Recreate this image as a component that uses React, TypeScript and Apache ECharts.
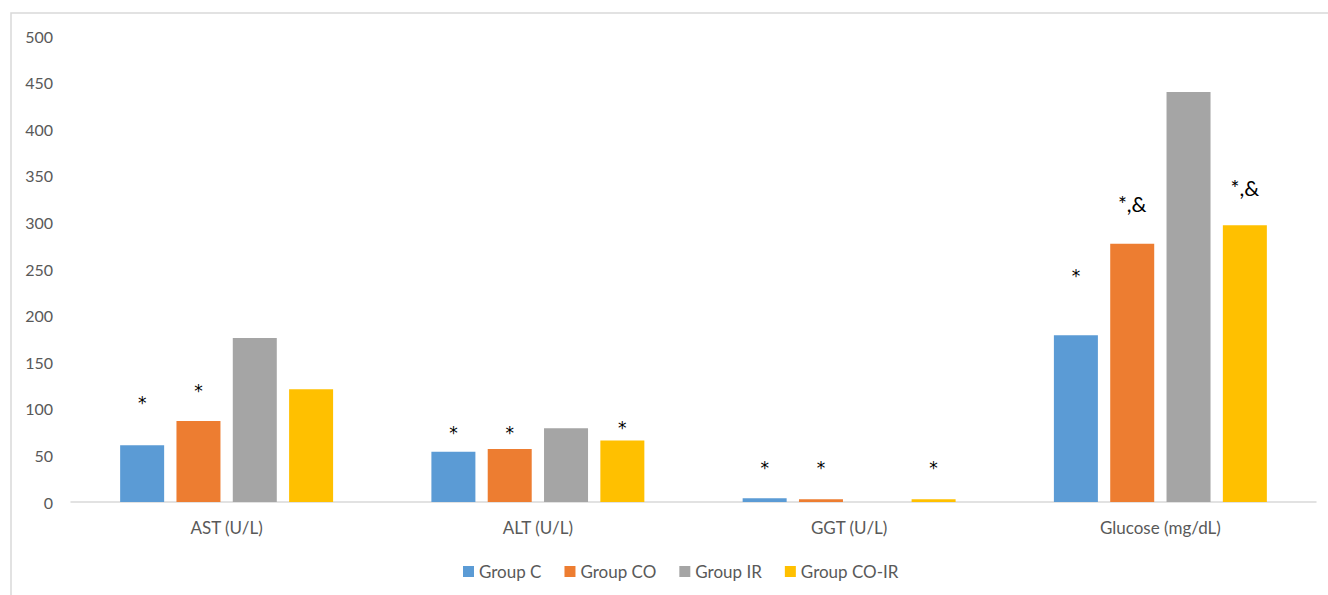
import React, { useEffect, useRef } from "react";
import * as echarts from "echarts";

const categories = ["AST (U/L)", "ALT (U/L)", "GGT (U/L)", "Glucose (mg/dL)"];
const seriesNames = ["Group C", "Group CO", "Group IR", "Group CO-IR"];
const groupC = [61, 54, 4, 179];
const groupCO = [87, 57, 3, 277];
const groupIR = [176, 79, 0, 440];
const groupCOIR = [121, 66, 3, 297];
const colors = ["#5B9BD5", "#ED7D31", "#A5A5A5", "#FFC000"];
// significance annotations per series (per category) and the level (data units) where they sit
const notesC = ["*", "*", "*", "*"];
const notesCO = ["*", "*", "*", "*,&"];
const notesIR = ["", "", "", ""];
const notesCOIR = ["", "*", "*", "*,&"];
const levelsC = [108, 76, 39, 245];
const levelsCO = [121, 76, 39, 318];
const levelsIR = [0, 0, 0, 0];
const levelsCOIR = [0, 82, 39, 335];
const yTicks = { min: 0, max: 500, interval: 50 };

const FONT = "Lato, 'Open Sans', sans-serif";

export default function App() {
  const ref = useRef<HTMLDivElement>(null);
  useEffect(() => {
    if (!ref.current) return;
    const chart = echarts.init(ref.current, null, { renderer: "svg" });
    const gridTop = 36;
    const gridBottom = 93;
    const plotH = 595 - gridTop - gridBottom;
    const pxPerUnit = plotH / (yTicks.max - yTicks.min);
    const all = [groupC, groupCO, groupIR, groupCOIR];
    const notes = [notesC, notesCO, notesIR, notesCOIR];
    const levels = [levelsC, levelsCO, levelsIR, levelsCOIR];
    const series = all.map((vals, si) => ({
      name: seriesNames[si],
      type: "bar",
      barWidth: 44,
      barGap: "28%",
      itemStyle: { color: colors[si] },
      data: vals.map((v, ci) => {
        const n = notes[si][ci];
        if (!n) return v;
        const star = n === "*";
        const fs = star ? 17 : 21;
        return {
          value: v,
          label: {
            show: true,
            position: "top",
            formatter: n,
            color: "#000",
            fontSize: fs,
            fontFamily: star ? "'DejaVu Sans', sans-serif" : FONT,
            distance: Math.max(0, (levels[si][ci] - v) * pxPerUnit - (star ? 10.5 : 8)),
          },
        };
      }),
    }));
    chart.setOption({
      animation: false,
      textStyle: { fontFamily: FONT },
      graphic: [
        {
          type: "rect",
          shape: { x: 11, y: 13, width: 1400, height: 700 },
          style: { fill: "none", stroke: "#d9d9d9", lineWidth: 1.5 },
          silent: true,
        },
      ],
      grid: { left: 71, right: 12, top: gridTop, bottom: gridBottom },
      legend: {
        data: seriesNames,
        bottom: 10,
        left: 458,
        itemWidth: 11,
        itemHeight: 11,
        itemGap: 23,
        icon: "rect",
        textStyle: { color: "#595959", fontSize: 17, fontFamily: FONT },
      },
      xAxis: {
        type: "category",
        data: categories,
        axisLine: { lineStyle: { color: "#d9d9d9", width: 1.5 } },
        axisTick: { show: false },
        axisLabel: { color: "#595959", fontSize: 17, margin: 17, fontFamily: FONT },
      },
      yAxis: {
        type: "value",
        min: yTicks.min,
        max: yTicks.max,
        interval: yTicks.interval,
        axisLine: { show: false },
        axisTick: { show: false },
        splitLine: { show: false },
        axisLabel: { color: "#595959", fontSize: 16, margin: 18, fontFamily: FONT },
      },
      series,
    });
    return () => chart.dispose();
  }, []);
  return (
    <div
      ref={ref}
      style={{ position: "fixed", left: 0, top: 0, width: 1328, height: 595, background: "#fff" }}
    />
  );
}
